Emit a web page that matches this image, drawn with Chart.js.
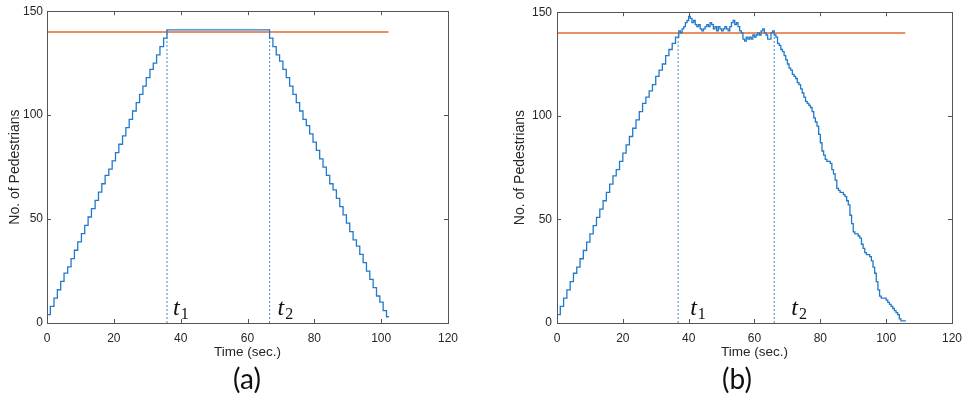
<!DOCTYPE html>
<html>
<head>
<meta charset="utf-8">
<script src="https://cdn.jsdelivr.net/npm/chart.js@4.4.1/dist/chart.umd.min.js"></script>
<style>
  html, body { margin: 0; padding: 0; background: #fff; }
  #wrap { position: relative; width: 970px; height: 410px; overflow: hidden; }
  .panel { position: absolute; top: 0; width: 485px; height: 410px; }
  .tag { position: absolute; top: 361px; font-family: Lato, "Open Sans", sans-serif; font-size: 28px; color: #111; transform: translateX(-50%); }
</style>
</head>
<body>
<div id="wrap">
  <div class="panel" style="left:0"><canvas id="chartA" width="485" height="410"></canvas></div>
  <div class="panel" style="left:485px"><canvas id="chartB" width="485" height="410"></canvas></div>
  <div class="tag" style="left:247px">(a)</div>
  <div class="tag" style="left:737px">(b)</div>
</div>
<script>
'use strict';

// ---- data ----
var xTicks = [0, 20, 40, 60, 80, 100, 120];
var yTicks = [0, 50, 100, 150];
var capacity = 140;

// (a) ideal flow
var leftTime = [0, 0, 1, 2.1, 3.1, 4.1, 5.1, 6.2, 7.2, 8.2, 9.2, 10.3, 11.3, 12.3, 13.3, 14.4,
  15.4, 16.4, 17.4, 18.5, 19.5, 20.5, 21.5, 22.6, 23.6, 24.6, 25.6, 26.7, 27.7, 28.7, 29.7,
  30.8, 31.8, 32.8, 33.8, 34.9, 35.9,
  66.6, 67.6, 68.6, 69.6, 70.6, 71.6, 72.6, 73.6, 74.6, 75.6, 76.6, 77.6, 78.6, 79.6,
  80.6, 81.6, 82.6, 83.6, 84.6, 85.6, 86.6, 87.6, 88.6, 89.6, 90.6, 91.6, 92.6, 93.6,
  94.6, 95.6, 96.6, 97.6, 98.6, 99.6, 100.6, 101.6, 102.3];
var leftCount = [0, 4, 8, 12, 16, 20, 24, 27, 31, 35, 39, 43, 47, 51, 55, 59, 63, 67, 71, 74, 78,
  82, 86, 90, 94, 98, 102, 106, 110, 114, 118, 122, 125, 129, 133, 137, 141,
  137, 133, 129, 126, 122, 118, 114, 110, 106, 102, 98, 95, 91, 87,
  83, 79, 75, 71, 67, 64, 60, 56, 52, 48, 44, 40, 37, 33,
  29, 25, 21, 17, 13, 10, 6, 3, 3];
var leftCapEnd = 102.2;
var leftMarkTimes = [35.9, 66.6];
var leftMarkTops = [141, 141];

// (b) simulated flow
var rightTime = [0, 0, 1, 2, 3, 4, 5, 6, 7, 8, 9, 10, 11, 12, 13, 14, 15, 16, 17, 18, 19,
  20, 21, 22, 23, 24, 25, 26, 27, 28, 29, 30, 31, 32, 33, 34, 35, 36, 37,
  37.5, 38, 38.5, 39, 39.5, 40, 40.5, 41, 41.5, 42, 42.5, 43, 43.5, 44, 44.5, 45, 45.5, 46, 46.5,
  47, 47.5, 48, 48.5, 49, 49.5, 50, 50.5, 51, 51.5, 52, 52.5, 53, 53.5, 54, 54.5, 55, 55.5, 56,
  56.5, 57, 57.5, 58, 58.5, 59, 59.5, 60, 60.5, 61, 61.5, 62, 62.5, 63, 63.5, 64, 64.5, 65, 65.5,
  66, 66.5, 67, 67.5, 68, 68.5, 69, 69.5, 70, 70.5, 71, 71.5, 72, 72.5, 73, 73.5, 74, 74.5, 75,
  75.5, 76, 76.5, 77, 77.5, 78, 78.5, 79, 79.5, 80, 80.5, 81, 81.5, 82, 82.5, 83, 83.5, 84, 84.5,
  85, 85.5, 86, 87, 87.5, 88, 88.5, 89, 89.5, 90, 90.5, 91, 91.5, 92, 92.5, 93, 93.5, 94, 95,
  95.5, 96, 96.5, 97, 97.5, 98, 98.5, 99, 100, 100.5, 101, 101.5, 102, 102.5, 103, 103.5, 104,
  104.5, 105, 106];
var rightCount = [0, 4, 8, 12, 16, 20, 24, 27, 31, 35, 39, 43, 47, 51, 55, 59, 63, 67, 71, 74, 78,
  82, 86, 90, 94, 98, 102, 106, 109, 112, 115, 119, 122, 125, 129, 132, 135, 138, 141,
  140, 142, 143, 145, 146, 148, 147, 145, 146, 144, 143, 144, 142, 141, 142, 143, 144, 143, 145,
  144, 142, 143, 141, 143, 142, 141, 142, 143, 142, 141, 143, 145, 146, 144, 145, 143, 141, 140,
  137, 136, 138, 137, 138, 137, 139, 138, 139, 140, 139, 141, 142, 140, 139, 137, 137, 140, 141,
  139, 138, 135, 134, 132, 131, 129, 127, 125, 123, 122, 120, 119, 118, 116, 115, 113, 111, 109,
  107, 106, 105, 104, 102, 99, 97, 95, 91, 87, 83, 81, 79, 78, 78, 77, 74, 72, 69,
  65, 64, 63, 62, 61, 59, 57, 52, 48, 44, 43, 43, 42, 41, 38, 36, 34, 33, 32,
  30, 27, 24, 20, 16, 13, 12, 12, 11, 10, 9, 8, 7, 6, 5, 4, 2,
  1, 1, 1];
var rightCapEnd = 105.8;
var rightMarkTimes = [36.8, 66.0];
var rightMarkTops = [140, 139];

var markSubs = ['1', '2'];

// ---- style ----
var BLUE = '#2079c9';
var DOT_BLUE = '#3f8ed8';
var ORANGE = '#ea8f66';
var AXIS = '#555555';
Chart.defaults.font.family = '"Liberation Sans", Arial, sans-serif';
Chart.defaults.font.size = 12;
Chart.defaults.color = '#262626';

function pts(xs, ys) {
  return xs.map(function (x, i) { return { x: x, y: ys[i] }; });
}

// box with inward ticks on all sides + t1/t2 labels, like a matlab axes
var matlabBox = {
  id: 'matlabBox',
  afterDatasetsDraw: function (chart, args, opts) {
    var ctx = chart.ctx, a = chart.chartArea;
    var xs = chart.scales.x, ys = chart.scales.y;
    ctx.save();
    ctx.strokeStyle = AXIS;
    ctx.lineWidth = 1;
    ctx.strokeRect(Math.round(a.left) + 0.5, Math.round(a.top) + 0.5,
      Math.round(a.right - a.left), Math.round(a.bottom - a.top));
    ctx.beginPath();
    xs.ticks.forEach(function (t) {
      var px = Math.round(xs.getPixelForValue(t.value)) + 0.5;
      ctx.moveTo(px, a.bottom); ctx.lineTo(px, a.bottom - 4);
      ctx.moveTo(px, a.top); ctx.lineTo(px, a.top + 4);
    });
    ys.ticks.forEach(function (t) {
      var py = Math.round(ys.getPixelForValue(t.value)) + 0.5;
      ctx.moveTo(a.left, py); ctx.lineTo(a.left + 4, py);
      ctx.moveTo(a.right, py); ctx.lineTo(a.right - 4, py);
    });
    ctx.stroke();

    ctx.fillStyle = '#111';
    ctx.textBaseline = 'alphabetic';
    opts.times.forEach(function (tm, i) {
      var px = xs.getPixelForValue(tm) + opts.dx[i];
      var py = ys.getPixelForValue(0) - 8;
      ctx.font = 'italic 24px "Liberation Serif", serif';
      ctx.fillText('t', px, py);
      var w = ctx.measureText('t').width;
      ctx.font = '16px "Liberation Serif", serif';
      ctx.fillText(markSubs[i], px + w + 1, py + 4);
    });
    ctx.restore();
  }
};

function makeChart(id, times, counts, capEnd, markTimes, markTops, cfg) {
  var datasets = [{
    data: pts(times, counts),
    borderColor: BLUE,
    borderWidth: 1.3,
    stepped: 'before',
    pointRadius: 0,
    showLine: true,
    order: 0
  }, {
    data: pts([0, capEnd], [capacity, capacity]),
    borderColor: ORANGE,
    borderWidth: 2,
    pointRadius: 0,
    showLine: true,
    order: 1
  }];
  markTimes.forEach(function (tm, i) {
    datasets.push({
      data: pts([tm, tm], [0, markTops[i]]),
      borderColor: DOT_BLUE,
      borderWidth: 1,
      borderDash: [2, 2],
      pointRadius: 0,
      showLine: true,
      order: 2
    });
  });

  return new Chart(document.getElementById(id), {
    type: 'scatter',
    data: { datasets: datasets },
    plugins: [matlabBox],
    options: {
      responsive: false,
      animation: false,
      layout: { padding: { left: cfg.padLeft, right: cfg.padRight, top: 7, bottom: 50 } },
      plugins: {
        legend: { display: false },
        tooltip: { enabled: false },
        matlabBox: { times: markTimes, dx: cfg.labelDx }
      },
      scales: {
        x: {
          type: 'linear',
          min: 0,
          max: 120,
          afterBuildTicks: function (s) { s.ticks = xTicks.map(function (v) { return { value: v }; }); },
          afterFit: function (s) { s.height = 37; },
          grid: { display: true, drawOnChartArea: false, drawTicks: false },
          border: { display: false },
          ticks: { padding: 8, maxRotation: 0, font: { size: 12 } },
          title: { display: true, text: 'Time (sec.)', padding: 0, font: { size: 13.5 } }
        },
        y: {
          type: 'linear',
          min: 0,
          max: 150,
          afterBuildTicks: function (s) { s.ticks = yTicks.map(function (v) { return { value: v }; }); },
          afterFit: function (s) { s.width = cfg.yWidth; },
          grid: { display: true, drawOnChartArea: false, drawTicks: false },
          border: { display: false },
          ticks: { padding: cfg.tickPad, font: { size: 12 } },
          title: { display: true, text: 'No. of Pedestrians', padding: 0, font: { size: 14 } }
        }
      }
    }
  });
}

makeChart('chartA', leftTime, leftCount, leftCapEnd, leftMarkTimes, leftMarkTops,
  { padLeft: 7, padRight: 37, yWidth: 40, tickPad: 4, labelDx: [6, 8] });
makeChart('chartB', rightTime, rightCount, rightCapEnd, rightMarkTimes, rightMarkTops,
  { padLeft: 27, padRight: 11, yWidth: 45, tickPad: 5, labelDx: [12, 17] });
</script>
</body>
</html>
